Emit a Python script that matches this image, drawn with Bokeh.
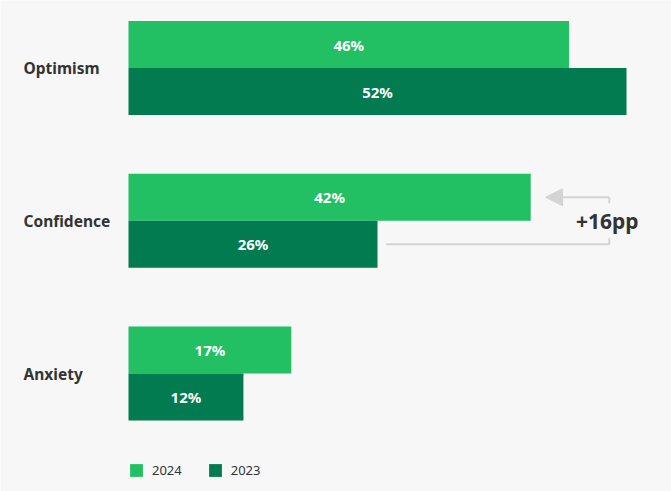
from bokeh.plotting import figure
from bokeh.models import Range1d, Legend, LegendItem, Arrow, NormalHead, ColumnDataSource
from bokeh.core.properties import value
from bokeh.embed import file_html
from bokeh.resources import INLINE

# Share of respondents per feeling, by survey year
categories = ["Optimism", "Confidence", "Anxiety"]
values_2024 = [46, 42, 17]
values_2023 = [52, 26, 12]
years = ["2024", "2023"]

LIGHT = "#22c063"
DARK = "#017b4f"
BG = "#f7f7f7"
INK = "#333333"
GRAY = "#d4d4d4"
FONT = "Noto Sans"

W, H = 671, 491
px_per_pct = 9.577
x0_px = 128
group_px = 152.75
top_px = 67.5
bar_h = 47 / group_px

p = figure(width=W, height=H, output_backend="svg", toolbar_location=None,
           x_range=Range1d(-x0_px / px_per_pct, (W - x0_px) / px_per_pct),
           y_range=Range1d((H - top_px) / group_px, -top_px / group_px),
           min_border=0, outline_line_color=None,
           background_fill_color=BG, border_fill_color=BG)
p.axis.visible = False
p.grid.visible = False

idx = list(range(len(categories)))
y24 = [i - bar_h / 2 for i in idx]
y23 = [i + bar_h / 2 for i in idx]

src24 = ColumnDataSource(dict(y=y24, v=values_2024, mid=[v / 2 for v in values_2024],
                              lab=[f"{v}%" for v in values_2024]))
src23 = ColumnDataSource(dict(y=y23, v=values_2023, mid=[v / 2 for v in values_2023],
                              lab=[f"{v}%" for v in values_2023]))

r24 = p.hbar(y="y", right="v", left=0, height=bar_h, source=src24, color=LIGHT, line_color=None)
r23 = p.hbar(y="y", right="v", left=0, height=bar_h, source=src23, color=DARK, line_color=None)

for src in (src24, src23):
    p.text(x="mid", y="y", text="lab", source=src, text_color="white",
           text_font=value(FONT), text_font_style="bold", text_font_size="15px",
           text_align="center", text_baseline="middle")

# Category labels on the left
p.text(x=[-(x0_px - 23) / px_per_pct] * len(categories), y=idx, text=categories,
       text_color=INK, text_font=value(FONT), text_font_style="bold",
       text_font_size="15.5px", text_align="left", text_baseline="middle")

# Bracket showing the change in confidence
k = categories.index("Confidence")
diff = values_2024[k] - values_2023[k]
bx = 50.2
tick = 6 / group_px
p.add_layout(Arrow(end=NormalHead(size=17, fill_color=GRAY, line_color=GRAY),
                   x_start=bx, y_start=y24[k], x_end=values_2024[k] + 1.55, y_end=y24[k],
                   line_color=GRAY, line_width=2))
p.line(x=[bx, bx], y=[y24[k], y24[k] + tick], line_color=GRAY, line_width=2)
p.line(x=[values_2023[k] + 0.9, bx, bx], y=[y23[k], y23[k], y23[k] - tick],
       line_color=GRAY, line_width=2)
p.text(x=[bx - 0.2], y=[k], text=[f"+{diff}pp"], text_color=INK,
       text_font=value(FONT), text_font_style="bold", text_font_size="21px",
       text_align="center", text_baseline="middle")

legend = Legend(items=[LegendItem(label=years[0], renderers=[r24]),
                       LegendItem(label=years[1], renderers=[r23])],
                orientation="horizontal", location=(x0_px, 12),
                glyph_width=16, glyph_height=16, label_height=16,
                label_standoff=8, spacing=25, padding=0, margin=0,
                border_line_color=None, background_fill_alpha=0,
                label_text_font=FONT, label_text_font_size="13px",
                label_text_color=INK)
p.add_layout(legend)

open("out.html", "w").write(file_html(p, INLINE))
